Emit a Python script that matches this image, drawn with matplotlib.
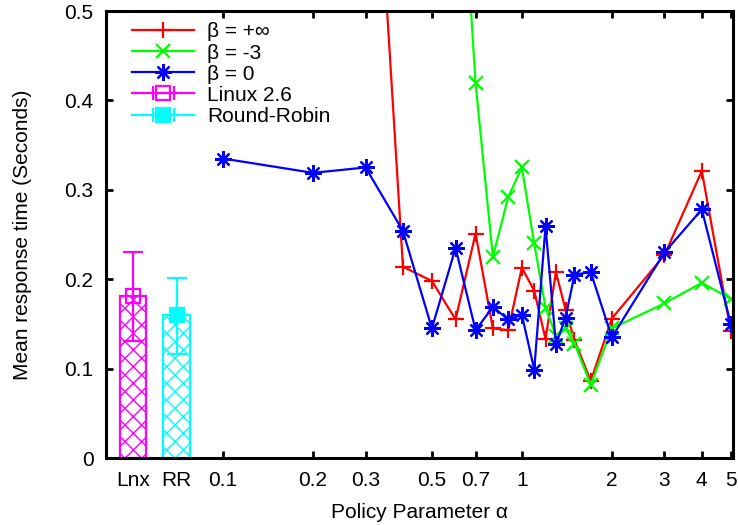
import numpy as np
import matplotlib
matplotlib.use("Agg")
import matplotlib.pyplot as plt
from matplotlib.ticker import FixedLocator, FixedFormatter

plt.rcParams["font.family"] = ["Liberation Sans", "DejaVu Sans"]
plt.rcParams["hatch.linewidth"] = 1.0

# policy parameter values for each series
alpha_inf = [0.3, 0.4, 0.5, 0.6, 0.7, 0.8, 0.9, 1.0, 1.1, 1.2, 1.3, 1.4, 1.5, 1.7, 2, 3, 4, 5]
alpha_m3 = [0.6, 0.7, 0.8, 0.9, 1.0, 1.1, 1.2, 1.3, 1.4, 1.5, 1.7, 2, 3, 4, 5]
alpha_0 = [0.1, 0.2, 0.3, 0.4, 0.5, 0.6, 0.7, 0.8, 0.9, 1.0, 1.1, 1.2, 1.3, 1.4, 1.5, 1.7, 2, 3, 4, 5]

# mean response time (s)
resp_inf = [0.89, 0.214, 0.198, 0.155, 0.251, 0.145, 0.143, 0.213, 0.187, 0.133, 0.208, 0.166,
            0.132, 0.086, 0.156, 0.227, 0.321, 0.142]
resp_m3 = [0.78, 0.419, 0.225, 0.292, 0.325, 0.240, 0.168, 0.137, 0.145, 0.128, 0.082, 0.145,
           0.173, 0.196, 0.178]
resp_0 = [0.335, 0.319, 0.325, 0.254, 0.145, 0.235, 0.143, 0.169, 0.155, 0.160, 0.099, 0.259,
          0.127, 0.157, 0.205, 0.208, 0.135, 0.230, 0.278, 0.150]

# baselines: mean with error range
base_names = ["Lnx", "RR"]
base_mean = [0.181, 0.160]
base_low = [0.131, 0.116]
base_high = [0.230, 0.201]

xticks = [0.1, 0.2, 0.3, 0.5, 0.7, 1, 2, 3, 4, 5]
xtick_labels = ["0.1", "0.2", "0.3", "0.5", "0.7", "1", "2", "3", "4", "5"]
yticks = [0, 0.1, 0.2, 0.3, 0.4, 0.5]
ytick_labels = ["0", "0.1", "0.2", "0.3", "0.4", "0.5"]

RED = "#ff0000"
GREEN = "#00ff00"
BLUE = "#0000ff"
MAG = "#ff00ff"
CYAN = "#00ffff"
FS = 15


def plot_chart():
    fig = plt.figure(figsize=(7.38, 5.25), dpi=100)
    ax = fig.add_axes([0.1436, 0.1276, 0.8494, 0.8514])
    ax.set_xscale("log")

    lw = 1.6
    ax.plot(alpha_inf, resp_inf, color=RED, lw=lw, marker="+", ms=12, mew=1.6, label="β = +∞")
    ax.plot(alpha_m3, resp_m3, color=GREEN, lw=lw, marker="x", ms=10, mew=1.6, label="β = -3")
    ax.plot(alpha_0, resp_0, color=BLUE, lw=lw, marker=(8, 2, 0), ms=12, mew=1.6, label="β = 0")

    # baseline bars sit left of 0.1 on the same log axis
    base_pos = [0.05, 0.07]
    half = 10 ** 0.045
    colors = [MAG, CYAN]
    fills = ["none", CYAN]
    for i in range(2):
        left = base_pos[i] / half
        ax.bar(left, base_mean[i], width=base_pos[i] * half - left, align="edge",
               facecolor="none", edgecolor=colors[i], hatch="xx", lw=1.6, zorder=2)
        err = [[base_mean[i] - base_low[i]], [base_high[i] - base_mean[i]]]
        ax.errorbar([base_pos[i]], [base_mean[i]], yerr=err, color=colors[i], lw=1.6,
                    capsize=7, capthick=1.6, marker="s", ms=10, mew=1.6,
                    mfc=fills[i], mec=colors[i], zorder=3)

    # legend proxies for the baselines, drawn like gnuplot (horizontal with caps)
    h_lnx = ax.errorbar([np.nan], [np.nan], xerr=[1], color=MAG, lw=1.6, capsize=5, capthick=1.6,
                        marker="s", ms=10, mew=1.6, mfc="none", mec=MAG)
    h_rr = ax.errorbar([np.nan], [np.nan], xerr=[1], color=CYAN, lw=1.6, capsize=5, capthick=1.6,
                       marker="s", ms=10, mew=1.6, mfc=CYAN, mec=CYAN)

    ax.set_xlim(0.0406, 5.08)
    ax.set_ylim(0, 0.5)

    ax.xaxis.set_major_locator(FixedLocator(xticks))
    ax.xaxis.set_major_formatter(FixedFormatter(xtick_labels))
    ax.xaxis.set_minor_locator(FixedLocator(base_pos))
    ax.xaxis.set_minor_formatter(FixedFormatter(base_names))
    ax.set_yticks(yticks)
    ax.set_yticklabels(ytick_labels)

    ax.tick_params(which="major", direction="in", length=5, width=2, top=True, right=True,
                   labelsize=FS, pad=9)
    ax.tick_params(which="minor", length=0, labelsize=FS, pad=9)
    for s in ax.spines.values():
        s.set_linewidth(2.2)

    ax.set_xlabel("Policy Parameter α", fontsize=FS, labelpad=10)
    ax.set_ylabel("Mean response time (Seconds)", fontsize=FS, labelpad=23)

    handles, labels = ax.get_legend_handles_labels()
    handles = handles[:3] + [h_lnx, h_rr]
    labels = labels[:3] + ["Linux 2.6", "Round-Robin"]
    ax.legend(handles, labels, loc="upper left", bbox_to_anchor=(0.028, 0.993), frameon=False,
              fontsize=FS, handlelength=3.0, handletextpad=0.62, labelspacing=0.1,
              borderaxespad=0.0)

    fig.savefig("out.png", dpi=100)
    plt.close(fig)


if __name__ == "__main__":
    plot_chart()
